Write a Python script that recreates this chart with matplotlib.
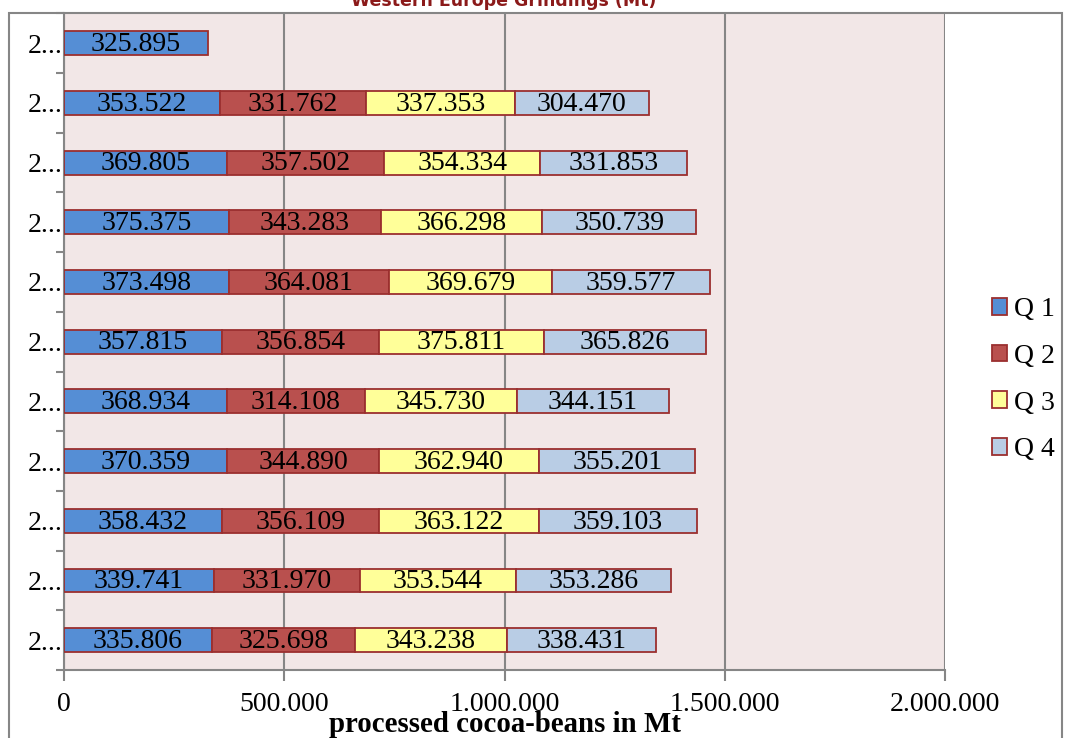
import numpy as np
import matplotlib
matplotlib.use("Agg")
import matplotlib.pyplot as plt
from matplotlib.patches import Rectangle, Patch

# rows from top to bottom (the top year only has Q1 so far)
years = ["2014", "2013", "2012", "2011", "2010", "2009", "2008", "2007", "2006", "2005", "2004"]
q1 = [325895, 353522, 369805, 375375, 373498, 357815, 368934, 370359, 358432, 339741, 335806]
q2 = [np.nan, 331762, 357502, 343283, 364081, 356854, 314108, 344890, 356109, 331970, 325698]
q3 = [np.nan, 337353, 354334, 366298, 369679, 375811, 345730, 362940, 363122, 353544, 343238]
q4 = [np.nan, 304470, 331853, 350739, 359577, 365826, 344151, 355201, 359103, 353286, 338431]
series = ["Q 1", "Q 2", "Q 3", "Q 4"]
colors = ["#558ED5", "#B9504E", "#FFFF99", "#B9CDE5"]
edge = "#9B2F2F"

serif = "Liberation Serif"

fig = plt.figure(figsize=(10.67, 7.38), dpi=100)
ax = fig.add_axes([0.060, 0.092, 0.8257, 0.890])
ax.set_facecolor("#F2E7E7")

y = np.arange(len(years))
left = np.zeros(len(years))
for name, vals, c in zip(series, [q1, q2, q3, q4], colors):
    vals = np.array(vals, dtype=float)
    w = np.nan_to_num(vals)
    bars = ax.barh(y, w, left=left, height=0.4, color=c, edgecolor=edge,
                   linewidth=1.3, zorder=3)
    for b, v, l in zip(bars, vals, left):
        if np.isnan(v):
            b.set_visible(False)
            continue
        ax.text(l + v / 2, b.get_y() + b.get_height() / 2 + 0.02,
                f"{int(v):,}".replace(",", "."), ha="center", va="center",
                fontsize=20, family=serif, color="black", zorder=4)
    left = left + w

ax.set_xlim(0, 2000000)
ax.set_ylim(len(years) - 0.5, -0.5)
ax.set_xticks([0, 500000, 1000000, 1500000, 2000000])
ax.set_xticklabels(["0", "500.000", "1.000.000", "1.500.000", "2.000.000"],
                   fontsize=20, family=serif)
ax.set_yticks(y)
ax.set_yticklabels([s[0] + "..." for s in years], fontsize=20, family=serif)
ax.set_yticks(np.arange(len(years) + 1) - 0.5, minor=True)
ax.tick_params(axis="y", which="major", length=0, pad=1)
ax.tick_params(axis="y", which="minor", length=6, color="#868686", width=1.5)
ax.tick_params(axis="x", length=8, color="#868686", width=1.5, pad=8)
ax.grid(axis="x", color="#868686", linewidth=1.5, zorder=0)
for side in ["top", "right"]:
    ax.spines[side].set_visible(False)
for side in ["left", "bottom"]:
    ax.spines[side].set_color("#868686")
    ax.spines[side].set_linewidth(1.5)

fig.text(0.473, 0.0075, "processed cocoa-beans in Mt", ha="center", va="baseline",
         fontsize=20.8, fontweight="bold", family=serif)
fig.text(0.472, 0.9925, "Western Europe Grindings (Mt)", ha="center", va="baseline",
         fontsize=12.5, fontweight="bold", color="#8B1A1A")

fig.patches.append(Rectangle((0.0085, -0.01), 0.987, 0.993, transform=fig.transFigure,
                             fill=False, edgecolor="#868686", linewidth=1.5))

handles = [Patch(facecolor=c, edgecolor=edge, linewidth=1.3) for c in colors]
ax.legend(handles, series, loc="center left", bbox_to_anchor=(1.053, 0.442),
          frameon=False, prop={"family": serif, "size": 20}, handlelength=0.55,
          handleheight=0.55, handletextpad=0.25, labelspacing=0.78,
          borderpad=0, borderaxespad=0)

fig.savefig("out.png", dpi=100)
